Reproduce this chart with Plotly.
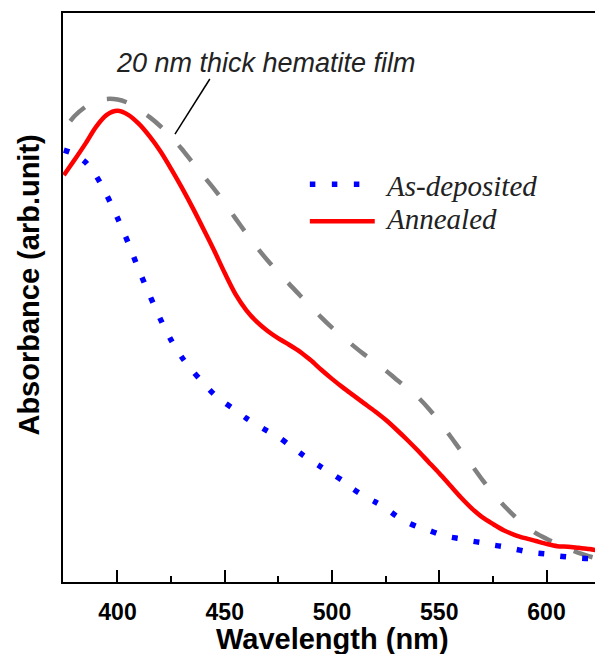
import plotly.graph_objects as go

# ---- data ----
wavelength = [375, 380, 385, 390, 395, 400, 405, 410, 415, 420, 425, 430, 435, 440, 445,
              450, 455, 460, 465, 470, 475, 480, 485, 490, 495, 500, 505, 510, 515, 520,
              525, 530, 535, 540, 545, 550, 555, 560, 565, 570, 575, 580, 585, 590, 595,
              600, 605, 610, 615, 620, 623]

as_deposited = [0.759, 0.752, 0.738, 0.714, 0.680, 0.640, 0.596, 0.548, 0.504, 0.462, 0.425,
                0.395, 0.371, 0.350, 0.330, 0.315, 0.302, 0.288, 0.276, 0.265, 0.255, 0.241,
                0.227, 0.214, 0.202, 0.190, 0.178, 0.163, 0.151, 0.141, 0.130, 0.116, 0.105,
                0.097, 0.091, 0.084, 0.079, 0.076, 0.072, 0.069, 0.065, 0.062, 0.058, 0.054,
                0.051, 0.049, 0.046, 0.044, 0.042, 0.041, 0.041]

annealed = [0.715, 0.742, 0.770, 0.800, 0.821, 0.828, 0.821, 0.805, 0.783, 0.757, 0.726,
            0.693, 0.658, 0.621, 0.583, 0.543, 0.506, 0.478, 0.457, 0.441, 0.428, 0.417,
            0.405, 0.390, 0.373, 0.357, 0.342, 0.328, 0.314, 0.300, 0.285, 0.268, 0.250,
            0.231, 0.211, 0.191, 0.170, 0.149, 0.130, 0.114, 0.102, 0.091, 0.083, 0.077,
            0.072, 0.067, 0.063, 0.062, 0.060, 0.058, 0.056]

wavelength_film = [378, 380, 385, 390, 395, 400, 405, 410, 415, 420, 425, 430, 435, 440, 445,
                   450, 455, 460, 465, 470, 475, 480, 485, 490, 495, 500, 505, 510, 515, 520,
                   525, 530, 535, 540, 545, 550, 555, 560, 565, 570, 575, 580, 585, 590, 595,
                   600, 605, 610, 615, 620, 623]

film_20nm = [0.810, 0.819, 0.835, 0.845, 0.849, 0.848, 0.842, 0.830, 0.817, 0.801, 0.782,
             0.761, 0.737, 0.714, 0.691, 0.666, 0.639, 0.613, 0.588, 0.565, 0.544, 0.524,
             0.504, 0.485, 0.465, 0.447, 0.431, 0.415, 0.400, 0.386, 0.372, 0.356, 0.341,
             0.325, 0.305, 0.282, 0.257, 0.231, 0.206, 0.180, 0.156, 0.135, 0.116, 0.100,
             0.086, 0.076, 0.067, 0.059, 0.051, 0.045, 0.042]

x_ticks = [400, 450, 500, 550, 600]
x_tick_labels = ["400", "450", "500", "550", "600"]

BLUE = "#0000FF"
RED = "#FF0000"
GRAY = "#808080"
DOT = "5.5px,16.5px"
DASH = "20px,24px"

fig = go.Figure()
fig.add_trace(go.Scatter(x=wavelength_film, y=film_20nm, mode="lines", name="20 nm thick hematite film",
                         line=dict(color=GRAY, width=4.5, dash=DASH, shape="spline", smoothing=0.8),
                         showlegend=False))
fig.add_trace(go.Scatter(x=wavelength, y=as_deposited, mode="lines", name="As-deposited",
                         line=dict(color=BLUE, width=5.5, dash=DOT, shape="spline", smoothing=0.8),
                         showlegend=False))
fig.add_trace(go.Scatter(x=wavelength, y=annealed, mode="lines", name="Annealed",
                         line=dict(color=RED, width=4.5, shape="spline", smoothing=0.8),
                         showlegend=False))

# manual legend (paper coordinates)
fig.add_shape(type="line", xref="paper", yref="paper", x0=0.464, x1=0.560, y0=0.699, y1=0.699,
              line=dict(color=BLUE, width=5.5, dash=DOT))
fig.add_shape(type="line", xref="paper", yref="paper", x0=0.464, x1=0.586, y0=0.634, y1=0.634,
              line=dict(color=RED, width=4.5))
legend_font = dict(family="Liberation Serif", size=29, color="#222222")
fig.add_annotation(xref="paper", yref="paper", x=0.602, y=0.696, xanchor="left", yanchor="middle",
                   text="<i>As-deposited</i>", showarrow=False, font=legend_font)
fig.add_annotation(xref="paper", yref="paper", x=0.602, y=0.638, xanchor="left", yanchor="middle",
                   text="<i>Annealed</i>", showarrow=False, font=legend_font)

# label for the dashed curve with leader line
fig.add_annotation(xref="paper", yref="paper", x=0.382, y=0.913, xanchor="center", yanchor="middle",
                   text="<i>20 nm thick hematite film</i>", showarrow=False,
                   font=dict(family="Liberation Sans", size=27, color="#222222"))
fig.add_shape(type="line", xref="paper", yref="paper", x0=0.276, y0=0.884, x1=0.2105, y1=0.787,
              line=dict(color="black", width=1.5))

# axis titles
fig.add_annotation(xref="paper", yref="paper", x=-0.0639, y=0.521, xanchor="center", yanchor="middle",
                   text="<b>Absorbance (arb.unit)</b>", textangle=-90, showarrow=False,
                   font=dict(family="Liberation Sans", size=29, color="black"))
fig.add_annotation(xref="paper", yref="paper", x=0.507, y=-0.1, xanchor="center", yanchor="middle",
                   text="<b>Wavelength (nm)</b>", showarrow=False,
                   font=dict(family="Liberation Sans", size=29, color="black"))

fig.update_layout(
    width=595, height=654,
    margin=dict(l=63, r=0, t=13, b=72),
    paper_bgcolor="white", plot_bgcolor="white",
    xaxis=dict(
        range=[374.6, 622.6], showgrid=False, zeroline=False, automargin=False,
        showline=True, linecolor="black", linewidth=2, mirror=True,
        ticks="inside", ticklen=12, tickwidth=2, tickcolor="black",
        tickvals=x_ticks, ticktext=x_tick_labels, ticklabelstandoff=8,
        tickfont=dict(family="Liberation Sans", size=23, color="black", weight="bold"),
        minor=dict(ticks="inside", ticklen=6, tickwidth=2, tickcolor="black",
                   tickvals=[425, 475, 525, 575, 625]),
    ),
    yaxis=dict(
        range=[0, 1], showgrid=False, zeroline=False, showticklabels=False, automargin=False,
        showline=True, linecolor="black", linewidth=2, ticks="",
    ),
)

# remove the browser's default 8px body margin so the 595x654 figure fills the window exactly
fig.write_html("out.html", config={"displayModeBar": False},
               post_script="document.body.style.margin='0';document.body.style.overflow='hidden';")
